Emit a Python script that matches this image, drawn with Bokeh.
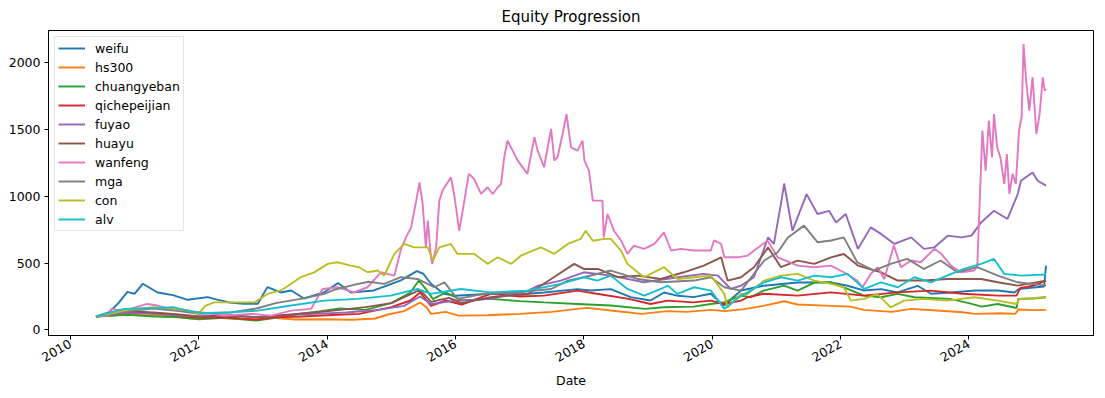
import math
from datetime import datetime
from bokeh.plotting import figure
from bokeh.models import Range1d, FixedTicker, DatetimeTickFormatter, Legend, LegendItem
from bokeh.embed import file_html
from bokeh.resources import INLINE

# ---- data (dates as decimal years, values = equity index) ----
series_names = ["weifu", "hs300", "chuangyeban", "qichepeijian", "fuyao",
                "huayu", "wanfeng", "mga", "con", "alv"]
colors = ["#1f77b4", "#ff7f0e", "#2ca02c", "#d62728", "#9467bd",
          "#8c564b", "#e377c2", "#7f7f7f", "#bcbd22", "#17becf"]

weifu = [(2010.40,100),(2010.60,130),(2010.75,200),(2010.89,285),(2011.00,270),(2011.13,345),
         (2011.36,280),(2011.60,260),(2011.83,225),(2012.14,245),(2012.30,225),(2012.48,205),
         (2012.70,195),(2012.92,195),(2013.07,320),(2013.28,280),(2013.44,295),(2013.64,235),
         (2013.95,280),(2014.17,350),(2014.37,280),(2014.73,295),(2015.15,370),(2015.40,440),
         (2015.50,420),(2015.62,345),(2015.82,270),(2016.00,255),(2016.55,270),(2017.00,265),
         (2017.38,280),(2017.90,305),(2018.11,295),(2018.42,305),(2018.73,245),(2019.04,220),
         (2019.25,280),(2019.47,255),(2019.71,245),(2019.98,270),(2020.18,180),(2020.45,295),
         (2020.80,330),(2021.33,355),(2021.85,355),(2022.11,330),(2022.36,295),(2022.63,305),
         (2022.89,280),(2023.20,330),(2023.41,270),(2023.72,280),(2024.11,295),(2024.45,295),
         (2024.71,280),(2024.77,305),(2025.17,325),(2025.20,480)]

hs300 = [(2010.40,100),(2010.60,105),(2010.85,120),(2011.10,112),(2011.30,108),(2011.60,98),
         (2011.90,85),(2012.20,92),(2012.50,85),(2012.90,76),(2013.10,92),(2013.50,78),
         (2013.90,80),(2014.40,76),(2014.75,85),(2014.95,115),(2015.20,140),(2015.45,205),
         (2015.55,170),(2015.62,120),(2015.85,135),(2016.05,107),(2016.50,110),(2017.00,120),
         (2017.50,135),(2017.90,157),(2018.05,165),(2018.42,145),(2018.90,120),(2019.30,140),
         (2019.60,135),(2019.98,150),(2020.20,140),(2020.50,155),(2020.80,180),(2021.12,214),
         (2021.33,190),(2021.85,180),(2022.15,174),(2022.36,150),(2022.80,135),(2023.10,157),
         (2023.50,145),(2023.90,132),(2024.10,120),(2024.50,125),(2024.72,120),(2024.77,152),
         (2025.00,148),(2025.20,150)]

chuangyeban = [(2010.40,100),(2010.90,112),(2011.30,100),(2011.70,95),(2012.00,80),(2012.40,90),
               (2012.90,70),(2013.20,90),(2013.50,115),(2013.90,140),(2014.20,160),(2014.60,150),
               (2015.00,200),(2015.30,280),(2015.43,370),(2015.55,300),(2015.65,230),(2015.85,280),
               (2016.10,220),(2016.55,232),(2017.00,215),(2017.38,206),(2017.90,194),(2018.42,182),
               (2018.95,157),(2019.25,169),(2019.71,174),(2019.98,194),(2020.18,206),(2020.45,256),
               (2020.60,244),(2020.80,294),(2021.12,331),(2021.33,294),(2021.60,356),(2021.85,356),
               (2022.11,306),(2022.36,256),(2022.63,244),(2022.89,269),(2023.15,244),(2023.70,232),
               (2024.00,200),(2024.20,174),(2024.45,194),(2024.74,164),(2024.77,232),(2025.00,235),
               (2025.20,244)]

qichepeijian = [(2010.40,100),(2010.90,130),(2011.30,125),(2011.70,105),(2012.00,90),(2012.40,95),
                (2012.90,78),(2013.20,95),(2013.60,100),(2014.00,110),(2014.50,120),(2015.00,170),
                (2015.30,220),(2015.45,280),(2015.62,180),(2015.85,220),(2016.10,190),(2016.55,270),
                (2017.00,250),(2017.38,256),(2017.90,294),(2018.20,270),(2018.70,232),(2019.04,194),
                (2019.30,219),(2019.71,206),(2019.98,219),(2020.18,194),(2020.45,219),(2020.55,244),
                (2020.80,270),(2021.33,256),(2021.85,281),(2022.36,256),(2022.89,281),(2023.41,294),
                (2023.90,270),(2024.45,256),(2024.74,256),(2024.80,314),(2025.00,330),(2025.20,369)]

fuyao = [(2010.40,100),(2010.90,130),(2011.30,120),(2011.70,110),(2012.00,100),(2012.50,105),
         (2012.90,95),(2013.30,110),(2013.80,120),(2014.30,130),(2014.80,150),(2015.20,180),
         (2015.45,250),(2015.62,194),(2016.00,219),(2016.55,232),(2017.13,294),(2017.29,331),
         (2017.64,369),(2018.00,431),(2018.42,406),(2018.94,356),(2019.47,394),(2019.87,419),
         (2020.09,406),(2020.29,306),(2020.45,331),(2020.65,394),(2020.87,692),(2020.96,643),
         (2021.07,943),(2021.12,1095),(2021.25,742),(2021.47,1016),(2021.64,867),(2021.82,891),
         (2021.93,804),(2022.08,867),(2022.27,606),(2022.47,767),(2022.63,718),(2022.84,643),
         (2023.10,692),(2023.30,606),(2023.46,617),(2023.67,705),(2023.88,692),(2024.04,705),
         (2024.19,804),(2024.39,891),(2024.60,830),(2024.76,1016),(2024.81,1116),(2024.99,1178),
         (2025.07,1116),(2025.20,1079)]

huayu = [(2010.40,100),(2010.90,140),(2011.30,130),(2011.70,115),(2012.00,100),(2012.50,110),
         (2012.90,95),(2013.30,110),(2013.80,130),(2014.20,150),(2014.60,170),(2015.00,200),
         (2015.45,300),(2015.62,210),(2015.90,240),(2016.10,200),(2016.55,244),(2017.13,269),
         (2017.49,381),(2017.85,494),(2018.00,456),(2018.22,456),(2018.53,394),(2018.84,406),
         (2019.20,381),(2019.56,431),(2019.87,481),(2020.14,543),(2020.24,369),(2020.45,394),
         (2020.65,469),(2020.87,617),(2021.07,469),(2021.33,518),(2021.59,494),(2021.85,543),
         (2022.05,568),(2022.27,481),(2022.63,431),(2022.89,369),(2023.30,369),(2023.67,381),
         (2024.19,381),(2024.45,356),(2024.76,331),(2025.20,369)]

wanfeng = [(2010.40,100),(2010.60,110),(2010.64,157),(2010.84,144),(2011.20,194),(2011.36,182),
           (2011.62,150),(2012.04,132),(2012.40,107),(2012.82,120),(2013.13,107),(2013.44,144),
           (2013.75,157),(2013.93,306),(2014.17,319),(2014.42,281),(2014.63,319),(2014.84,431),
           (2015.05,406),(2015.15,600),(2015.23,692),(2015.31,767),(2015.39,967),(2015.44,1103),
           (2015.49,942),(2015.54,617),(2015.57,817),(2015.62,543),(2015.64,494),(2015.70,617),
           (2015.75,967),(2015.80,1042),(2015.88,1103),(2015.93,1142),(2015.98,1017),(2016.06,742),
           (2016.14,967),(2016.21,1167),(2016.29,1130),(2016.40,1017),(2016.50,1067),(2016.58,1017),
           (2016.66,1067),(2016.71,1092),(2016.76,1292),(2016.81,1416),(2016.89,1341),(2016.97,1266),
           (2017.12,1167),(2017.23,1441),(2017.28,1341),(2017.38,1217),(2017.49,1503),(2017.54,1266),
           (2017.59,1292),(2017.67,1466),(2017.73,1615),(2017.80,1366),(2017.90,1341),(2017.98,1416),
           (2018.01,1266),(2018.08,1192),(2018.14,967),(2018.29,967),(2018.31,692),(2018.37,867),
           (2018.47,742),(2018.58,669),(2018.68,569),(2018.78,631),(2018.94,606),(2019.10,643),
           (2019.25,730),(2019.36,594),(2019.51,606),(2019.72,594),(2019.98,594),(2020.03,669),
           (2020.14,643),(2020.19,543),(2020.40,543),(2020.55,556),(2020.86,669),(2021.02,543),
           (2021.33,481),(2021.59,469),(2021.85,481),(2022.05,431),(2022.26,369),(2022.34,319),
           (2022.47,419),(2022.58,469),(2022.68,381),(2022.83,631),(2022.94,469),(2023.10,519),
           (2023.25,506),(2023.46,606),(2023.57,569),(2023.72,481),(2023.88,431),(2024.08,444),
           (2024.13,469),(2024.21,1491),(2024.26,1191),(2024.31,1566),(2024.36,1290),(2024.39,1615),
           (2024.44,1366),(2024.49,1290),(2024.55,1092),(2024.59,1316),(2024.63,1017),(2024.68,1167),
           (2024.73,1092),(2024.78,1491),(2024.82,1591),(2024.85,2138),(2024.89,1865),(2024.94,1641),
           (2024.99,1890),(2025.05,1466),(2025.10,1615),(2025.15,1890),(2025.18,1790),(2025.20,1802)]

mga = [(2010.40,100),(2010.90,140),(2011.30,160),(2011.70,140),(2012.00,120),(2012.50,130),
       (2012.90,160),(2013.20,200),(2013.59,232),(2013.96,269),(2014.11,300),(2014.45,340),
       (2014.65,360),(2014.89,344),(2015.15,394),(2015.41,381),(2015.67,319),(2015.83,356),
       (2016.03,232),(2016.45,269),(2016.97,281),(2017.49,306),(2017.75,369),(2018.00,394),
       (2018.42,444),(2018.84,381),(2019.20,356),(2019.72,369),(2019.98,394),(2020.19,319),
       (2020.45,294),(2020.81,519),(2021.02,581),(2021.18,692),(2021.43,780),(2021.64,656),
       (2021.85,669),(2022.05,692),(2022.26,506),(2022.52,444),(2022.78,494),(2023.04,531),
       (2023.30,456),(2023.56,519),(2023.82,431),(2024.13,469),(2024.45,406),(2024.76,356),
       (2025.20,331)]

con = [(2010.40,100),(2010.70,130),(2010.90,150),(2011.30,170),(2011.60,160),(2011.85,145),
       (2012.00,120),(2012.10,180),(2012.24,206),(2012.45,206),(2012.87,206),(2013.07,269),
       (2013.30,300),(2013.59,394),(2013.80,430),(2014.01,494),(2014.16,506),(2014.37,481),
       (2014.50,469),(2014.63,431),(2014.79,444),(2014.89,406),(2015.05,569),(2015.20,643),
       (2015.36,617),(2015.57,617),(2015.65,519),(2015.75,617),(2015.93,643),(2016.03,569),
       (2016.29,569),(2016.50,494),(2016.66,543),(2016.87,494),(2017.02,556),(2017.33,617),
       (2017.54,569),(2017.75,643),(2017.95,681),(2018.03,742),(2018.14,667),(2018.32,681),
       (2018.42,681),(2018.58,593),(2018.68,494),(2018.84,431),(2018.94,394),(2019.25,469),
       (2019.46,381),(2019.72,394),(2019.98,406),(2020.19,269),(2020.24,169),(2020.45,269),
       (2020.55,269),(2020.81,369),(2021.07,406),(2021.33,419),(2021.59,369),(2021.85,344),
       (2022.05,319),(2022.16,219),(2022.37,232),(2022.57,269),(2022.78,169),(2022.99,219),
       (2023.30,232),(2023.66,219),(2024.08,244),(2024.45,219),(2024.74,194),(2024.79,232),
       (2025.20,244)]

alv = [(2010.40,100),(2010.70,140),(2010.84,157),(2011.36,164),(2011.60,170),(2011.88,139),
       (2012.05,125),(2012.50,132),(2012.92,144),(2013.44,182),(2013.96,219),(2014.48,232),
       (2014.99,256),(2015.41,306),(2015.62,269),(2016.08,306),(2016.55,281),(2017.12,294),
       (2017.64,344),(2018.00,394),(2018.21,369),(2018.42,406),(2018.68,306),(2018.94,256),
       (2019.20,306),(2019.31,331),(2019.46,269),(2019.72,319),(2019.98,294),(2020.19,157),
       (2020.45,256),(2020.55,281),(2020.81,356),(2021.07,394),(2021.33,369),(2021.59,406),
       (2021.85,394),(2022.11,419),(2022.37,306),(2022.63,356),(2022.89,319),(2023.15,394),
       (2023.41,356),(2023.66,406),(2023.92,456),(2024.19,494),(2024.39,531),(2024.55,419),
       (2024.81,406),(2025.20,414)]

all_series = [weifu, hs300, chuangyeban, qichepeijian, fuyao, huayu, wanfeng, mga, con, alv]

y_ticks = [0, 500, 1000, 1500, 2000]
x_tick_years = [2010, 2012, 2014, 2016, 2018, 2020, 2022, 2024]
x_label = "Date"
title_text = "Equity Progression"


def to_dt(d):
    y = int(d)
    a = datetime(y, 1, 1)
    b = datetime(y + 1, 1, 1)
    return a + (b - a) * (d - y)


FONT = "DejaVu Sans"

p = figure(width=1103, height=396, x_axis_type="datetime",
           output_backend="svg", toolbar_location=None,
           title=title_text,
           min_border_left=48, min_border_right=10, min_border_top=30, min_border_bottom=61)

p.x_range = Range1d(to_dt(2009.66), to_dt(2025.94))
p.y_range = Range1d(-42, 2240)

items = []
for name, col, pts in zip(series_names, colors, all_series):
    xs = [to_dt(d) for d, _ in pts]
    ys = [v for _, v in pts]
    r = p.line(xs, ys, line_color=col, line_width=1.9)
    items.append(LegendItem(label=name, renderers=[r]))

legend = Legend(items=items, location="top_left")
legend.label_text_font = FONT
legend.label_text_font_size = "12.5px"
legend.label_text_color = "black"
legend.glyph_width = 27
legend.glyph_height = 16
legend.label_height = 16
legend.spacing = 3
legend.padding = 3
legend.margin = 6
legend.label_standoff = 10
legend.border_line_color = "#cccccc"
legend.border_line_width = 1
legend.background_fill_alpha = 0.8
p.add_layout(legend)

p.title.text_font = FONT
p.title.text_font_size = "15px"
p.title.text_font_style = "normal"
p.title.align = "center"
p.title.text_color = "black"

p.xgrid.visible = False
p.ygrid.visible = False
p.outline_line_color = "black"
p.outline_line_width = 1
p.outline_line_alpha = 1
p.background_fill_color = "white"
p.border_fill_color = "white"

p.yaxis.ticker = FixedTicker(ticks=y_ticks)
p.xaxis.ticker = FixedTicker(ticks=[to_dt(y).timestamp() * 1000 for y in x_tick_years])
p.xaxis.formatter = DatetimeTickFormatter(years="%Y", months="%Y", days="%Y")
p.xaxis.major_label_orientation = math.pi / 6
p.xaxis.axis_label = x_label

for ax in (p.xaxis, p.yaxis):
    ax.major_label_text_font = FONT
    ax.major_label_text_font_size = "12.5px"
    ax.major_label_text_color = "black"
    ax.axis_label_text_font = FONT
    ax.axis_label_text_font_size = "12.5px"
    ax.axis_label_text_font_style = "normal"
    ax.axis_label_text_color = "black"
    ax.axis_line_color = "black"
    ax.major_tick_line_color = "black"
    ax.major_tick_out = 4
    ax.major_tick_in = 0
    ax.minor_tick_line_color = None
    ax.major_label_standoff = 4
p.xaxis.major_label_standoff = 3
p.xaxis.axis_label_standoff = 4

open("out.html", "w").write(file_html(p, INLINE))
